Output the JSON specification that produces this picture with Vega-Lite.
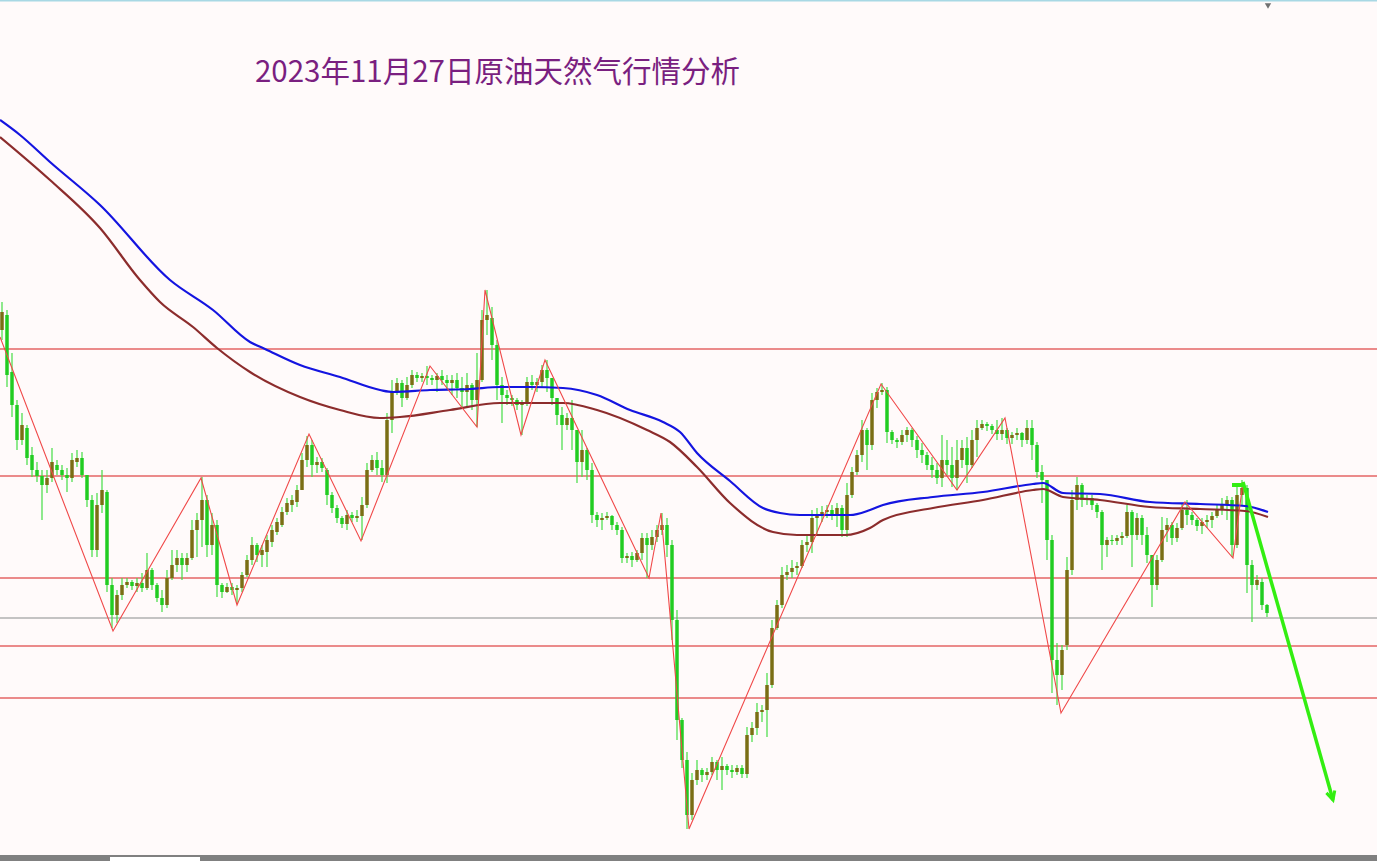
{
"$schema": "https://vega.github.io/schema/vega-lite/v6.json",
"width": 1377, "height": 861,
"autosize": "none",
"padding": 0,
"background": "#fffafa",
"config": {"view": {"stroke": null}, "axis": {"disable": true}},
"datasets": {
"one": [{}],
"candles": [
{"t":0,"o":82.7,"h":82.98,"l":82.6,"c":82.88},
{"t":1,"o":82.85,"h":82.9,"l":82.13,"c":82.25},
{"t":2,"o":82.28,"h":82.47,"l":81.83,"c":81.95},
{"t":3,"o":81.95,"h":82.0,"l":81.5,"c":81.6},
{"t":4,"o":81.6,"h":81.87,"l":81.55,"c":81.75},
{"t":5,"o":81.72,"h":81.75,"l":81.35,"c":81.42},
{"t":6,"o":81.45,"h":81.53,"l":81.23,"c":81.3},
{"t":7,"o":81.3,"h":81.38,"l":81.18,"c":81.24},
{"t":8,"o":81.24,"h":81.3,"l":80.8,"c":81.15},
{"t":9,"o":81.15,"h":81.3,"l":81.07,"c":81.22},
{"t":10,"o":81.22,"h":81.52,"l":81.18,"c":81.38},
{"t":11,"o":81.35,"h":81.4,"l":81.25,"c":81.3},
{"t":12,"o":81.3,"h":81.35,"l":81.2,"c":81.25},
{"t":13,"o":81.25,"h":81.32,"l":81.08,"c":81.22},
{"t":14,"o":81.22,"h":81.47,"l":81.18,"c":81.4},
{"t":15,"o":81.38,"h":81.5,"l":81.33,"c":81.42},
{"t":16,"o":81.42,"h":81.48,"l":81.22,"c":81.25},
{"t":17,"o":81.25,"h":81.25,"l":80.93,"c":81.0},
{"t":18,"o":81.0,"h":81.05,"l":80.43,"c":80.5},
{"t":19,"o":80.5,"h":81.07,"l":80.43,"c":80.95},
{"t":20,"o":80.95,"h":81.3,"l":80.87,"c":81.1},
{"t":21,"o":81.08,"h":81.1,"l":80.08,"c":80.15},
{"t":22,"o":80.15,"h":80.22,"l":79.72,"c":79.85},
{"t":23,"o":79.85,"h":80.1,"l":79.77,"c":80.05},
{"t":24,"o":80.05,"h":80.22,"l":80.0,"c":80.15},
{"t":25,"o":80.15,"h":80.22,"l":80.12,"c":80.18},
{"t":26,"o":80.18,"h":80.2,"l":80.1,"c":80.14},
{"t":27,"o":80.14,"h":80.22,"l":80.08,"c":80.17},
{"t":28,"o":80.17,"h":80.27,"l":80.08,"c":80.12},
{"t":29,"o":80.12,"h":80.47,"l":80.1,"c":80.3},
{"t":30,"o":80.3,"h":80.32,"l":80.1,"c":80.15},
{"t":31,"o":80.15,"h":80.17,"l":79.98,"c":80.02},
{"t":32,"o":80.02,"h":80.1,"l":79.88,"c":79.95},
{"t":33,"o":79.95,"h":80.3,"l":79.92,"c":80.22},
{"t":34,"o":80.22,"h":80.5,"l":80.2,"c":80.35},
{"t":35,"o":80.35,"h":80.5,"l":80.28,"c":80.42},
{"t":36,"o":80.42,"h":80.47,"l":80.2,"c":80.35},
{"t":37,"o":80.35,"h":80.47,"l":80.28,"c":80.42},
{"t":38,"o":80.42,"h":80.8,"l":80.4,"c":80.7},
{"t":39,"o":80.7,"h":80.87,"l":80.43,"c":80.8},
{"t":40,"o":80.8,"h":81.23,"l":80.53,"c":81.0},
{"t":41,"o":81.0,"h":81.05,"l":80.43,"c":80.55},
{"t":42,"o":80.55,"h":80.87,"l":80.45,"c":80.75},
{"t":43,"o":80.75,"h":80.8,"l":80.03,"c":80.15},
{"t":44,"o":80.15,"h":80.17,"l":80.02,"c":80.08},
{"t":45,"o":80.08,"h":80.17,"l":80.07,"c":80.13},
{"t":46,"o":80.13,"h":80.17,"l":80.05,"c":80.1},
{"t":47,"o":80.1,"h":80.15,"l":79.97,"c":80.12},
{"t":48,"o":80.12,"h":80.28,"l":80.08,"c":80.25},
{"t":49,"o":80.25,"h":80.45,"l":80.23,"c":80.4},
{"t":50,"o":80.4,"h":80.63,"l":80.35,"c":80.55},
{"t":51,"o":80.55,"h":80.57,"l":80.38,"c":80.45},
{"t":52,"o":80.45,"h":80.55,"l":80.33,"c":80.5},
{"t":53,"o":80.48,"h":80.65,"l":80.33,"c":80.6},
{"t":54,"o":80.58,"h":80.75,"l":80.53,"c":80.7},
{"t":55,"o":80.68,"h":80.82,"l":80.65,"c":80.78},
{"t":56,"o":80.75,"h":80.93,"l":80.73,"c":80.88},
{"t":57,"o":80.88,"h":81.02,"l":80.85,"c":80.97},
{"t":58,"o":80.95,"h":81.05,"l":80.88,"c":81.0},
{"t":59,"o":80.98,"h":81.15,"l":80.93,"c":81.1},
{"t":60,"o":81.1,"h":81.47,"l":81.1,"c":81.4},
{"t":61,"o":81.4,"h":81.64,"l":81.33,"c":81.55},
{"t":62,"o":81.55,"h":81.6,"l":81.23,"c":81.35},
{"t":63,"o":81.35,"h":81.43,"l":81.27,"c":81.38},
{"t":64,"o":81.38,"h":81.42,"l":81.28,"c":81.32},
{"t":65,"o":81.3,"h":81.32,"l":80.95,"c":81.05},
{"t":66,"o":81.05,"h":81.08,"l":80.87,"c":80.92},
{"t":67,"o":80.92,"h":80.95,"l":80.77,"c":80.82},
{"t":68,"o":80.82,"h":80.84,"l":80.72,"c":80.76},
{"t":69,"o":80.76,"h":80.9,"l":80.7,"c":80.85},
{"t":70,"o":80.85,"h":80.88,"l":80.78,"c":80.82},
{"t":71,"o":80.82,"h":80.9,"l":80.78,"c":80.84},
{"t":72,"o":80.84,"h":81.03,"l":80.6,"c":80.95},
{"t":73,"o":80.95,"h":81.37,"l":80.92,"c":81.3},
{"t":74,"o":81.3,"h":81.45,"l":81.28,"c":81.4},
{"t":75,"o":81.4,"h":81.48,"l":81.25,"c":81.32},
{"t":76,"o":81.32,"h":81.4,"l":81.18,"c":81.25},
{"t":77,"o":81.25,"h":81.87,"l":81.17,"c":81.8},
{"t":78,"o":81.8,"h":82.2,"l":81.67,"c":82.08},
{"t":79,"o":82.08,"h":82.22,"l":82.05,"c":82.17},
{"t":80,"o":82.17,"h":82.2,"l":81.93,"c":82.02},
{"t":81,"o":82.02,"h":82.23,"l":82.0,"c":82.15},
{"t":82,"o":82.15,"h":82.3,"l":82.12,"c":82.25},
{"t":83,"o":82.25,"h":82.28,"l":82.18,"c":82.22},
{"t":84,"o":82.22,"h":82.27,"l":82.18,"c":82.24},
{"t":85,"o":82.24,"h":82.34,"l":82.15,"c":82.22},
{"t":86,"o":82.22,"h":82.25,"l":82.15,"c":82.2},
{"t":87,"o":82.2,"h":82.27,"l":82.08,"c":82.24},
{"t":88,"o":82.24,"h":82.3,"l":82.15,"c":82.2},
{"t":89,"o":82.2,"h":82.25,"l":82.1,"c":82.17},
{"t":90,"o":82.17,"h":82.25,"l":82.05,"c":82.2},
{"t":91,"o":82.2,"h":82.27,"l":82.02,"c":82.12},
{"t":92,"o":82.12,"h":82.23,"l":81.93,"c":82.08},
{"t":93,"o":82.08,"h":82.27,"l":81.93,"c":82.15},
{"t":94,"o":82.15,"h":82.17,"l":81.9,"c":82.0},
{"t":95,"o":82.0,"h":82.47,"l":81.73,"c":82.2},
{"t":96,"o":82.2,"h":82.9,"l":82.18,"c":82.8},
{"t":97,"o":82.8,"h":83.1,"l":82.65,"c":82.85},
{"t":98,"o":82.82,"h":82.93,"l":82.4,"c":82.55},
{"t":99,"o":82.55,"h":82.6,"l":82.0,"c":82.15},
{"t":100,"o":82.15,"h":82.23,"l":81.77,"c":82.05},
{"t":101,"o":82.05,"h":82.1,"l":81.95,"c":82.02},
{"t":102,"o":82.02,"h":82.05,"l":81.94,"c":82.0},
{"t":103,"o":82.0,"h":82.02,"l":81.9,"c":81.95},
{"t":104,"o":81.95,"h":82.0,"l":81.65,"c":81.96},
{"t":105,"o":81.96,"h":82.23,"l":81.94,"c":82.18},
{"t":106,"o":82.18,"h":82.25,"l":82.1,"c":82.15},
{"t":107,"o":82.15,"h":82.22,"l":82.08,"c":82.18},
{"t":108,"o":82.18,"h":82.35,"l":82.12,"c":82.3},
{"t":109,"o":82.3,"h":82.4,"l":82.08,"c":82.22},
{"t":110,"o":82.22,"h":82.22,"l":81.95,"c":82.02},
{"t":111,"o":82.02,"h":82.02,"l":81.75,"c":81.85},
{"t":112,"o":81.85,"h":81.93,"l":81.5,"c":81.75},
{"t":113,"o":81.75,"h":81.87,"l":81.7,"c":81.82},
{"t":114,"o":81.82,"h":82.0,"l":81.5,"c":81.7},
{"t":115,"o":81.7,"h":81.7,"l":81.17,"c":81.38},
{"t":116,"o":81.38,"h":81.7,"l":81.23,"c":81.5},
{"t":117,"o":81.5,"h":81.52,"l":81.2,"c":81.3},
{"t":118,"o":81.3,"h":81.37,"l":80.77,"c":80.85},
{"t":119,"o":80.85,"h":80.88,"l":80.73,"c":80.8},
{"t":120,"o":80.8,"h":80.87,"l":80.7,"c":80.82},
{"t":121,"o":80.82,"h":80.88,"l":80.8,"c":80.84},
{"t":122,"o":80.84,"h":80.85,"l":80.7,"c":80.75},
{"t":123,"o":80.75,"h":80.78,"l":80.65,"c":80.7},
{"t":124,"o":80.7,"h":80.73,"l":80.37,"c":80.42},
{"t":125,"o":80.42,"h":80.47,"l":80.37,"c":80.44},
{"t":126,"o":80.44,"h":80.48,"l":80.33,"c":80.4},
{"t":127,"o":80.4,"h":80.5,"l":80.38,"c":80.47},
{"t":128,"o":80.47,"h":80.67,"l":80.4,"c":80.62},
{"t":129,"o":80.62,"h":80.67,"l":80.22,"c":80.55},
{"t":130,"o":80.55,"h":80.7,"l":80.5,"c":80.63},
{"t":131,"o":80.63,"h":80.75,"l":80.58,"c":80.7},
{"t":132,"o":80.7,"h":80.87,"l":80.65,"c":80.75},
{"t":133,"o":80.75,"h":80.82,"l":80.43,"c":80.55},
{"t":134,"o":80.55,"h":80.6,"l":79.6,"c":79.8},
{"t":135,"o":79.8,"h":79.9,"l":78.6,"c":78.8},
{"t":136,"o":78.8,"h":78.82,"l":78.32,"c":78.4},
{"t":137,"o":78.4,"h":78.48,"l":77.71,"c":77.85},
{"t":138,"o":77.85,"h":78.27,"l":77.8,"c":78.2},
{"t":139,"o":78.2,"h":78.4,"l":78.15,"c":78.3},
{"t":140,"o":78.3,"h":78.32,"l":78.18,"c":78.25},
{"t":141,"o":78.25,"h":78.32,"l":78.2,"c":78.28},
{"t":142,"o":78.28,"h":78.43,"l":78.25,"c":78.38},
{"t":143,"o":78.38,"h":78.4,"l":78.2,"c":78.3},
{"t":144,"o":78.3,"h":78.43,"l":78.1,"c":78.34},
{"t":145,"o":78.34,"h":78.36,"l":78.25,"c":78.3},
{"t":146,"o":78.3,"h":78.35,"l":78.22,"c":78.28},
{"t":147,"o":78.28,"h":78.35,"l":78.25,"c":78.32},
{"t":148,"o":78.32,"h":78.35,"l":78.22,"c":78.26},
{"t":149,"o":78.26,"h":78.73,"l":78.22,"c":78.65},
{"t":150,"o":78.65,"h":78.78,"l":78.58,"c":78.72},
{"t":151,"o":78.72,"h":78.97,"l":78.65,"c":78.88},
{"t":152,"o":78.88,"h":78.95,"l":78.78,"c":78.9},
{"t":153,"o":78.9,"h":79.27,"l":78.63,"c":79.15},
{"t":154,"o":79.15,"h":79.8,"l":79.12,"c":79.72},
{"t":155,"o":79.72,"h":80.0,"l":79.7,"c":79.95},
{"t":156,"o":79.95,"h":80.33,"l":79.92,"c":80.25},
{"t":157,"o":80.25,"h":80.35,"l":80.2,"c":80.28},
{"t":158,"o":80.28,"h":80.4,"l":80.22,"c":80.32},
{"t":159,"o":80.32,"h":80.38,"l":80.25,"c":80.34},
{"t":160,"o":80.34,"h":80.6,"l":80.32,"c":80.55},
{"t":161,"o":80.55,"h":80.64,"l":80.48,"c":80.58},
{"t":162,"o":80.58,"h":80.9,"l":80.47,"c":80.82},
{"t":163,"o":80.82,"h":80.92,"l":80.65,"c":80.85},
{"t":164,"o":80.85,"h":80.94,"l":80.78,"c":80.88},
{"t":165,"o":80.88,"h":80.95,"l":80.82,"c":80.9},
{"t":166,"o":80.9,"h":80.95,"l":80.8,"c":80.85},
{"t":167,"o":80.85,"h":80.97,"l":80.73,"c":80.92},
{"t":168,"o":80.92,"h":80.95,"l":80.63,"c":80.7},
{"t":169,"o":80.7,"h":81.17,"l":80.63,"c":81.05},
{"t":170,"o":81.05,"h":81.33,"l":81.02,"c":81.28},
{"t":171,"o":81.28,"h":81.5,"l":81.25,"c":81.45},
{"t":172,"o":81.45,"h":81.8,"l":81.38,"c":81.7},
{"t":173,"o":81.7,"h":81.72,"l":81.3,"c":81.55},
{"t":174,"o":81.55,"h":82.07,"l":81.5,"c":82.0},
{"t":175,"o":82.0,"h":82.12,"l":81.92,"c":82.08},
{"t":176,"o":82.08,"h":82.17,"l":82.05,"c":82.1},
{"t":177,"o":82.1,"h":82.13,"l":81.57,"c":81.68},
{"t":178,"o":81.68,"h":81.7,"l":81.56,"c":81.6},
{"t":179,"o":81.6,"h":81.62,"l":81.52,"c":81.58},
{"t":180,"o":81.58,"h":81.7,"l":81.55,"c":81.65},
{"t":181,"o":81.65,"h":81.73,"l":81.58,"c":81.7},
{"t":182,"o":81.7,"h":81.72,"l":81.53,"c":81.6},
{"t":183,"o":81.6,"h":81.64,"l":81.42,"c":81.5},
{"t":184,"o":81.5,"h":81.57,"l":81.37,"c":81.45},
{"t":185,"o":81.45,"h":81.48,"l":81.3,"c":81.35},
{"t":186,"o":81.35,"h":81.43,"l":81.22,"c":81.3},
{"t":187,"o":81.3,"h":81.37,"l":81.16,"c":81.22},
{"t":188,"o":81.22,"h":81.65,"l":81.13,"c":81.4},
{"t":189,"o":81.4,"h":81.6,"l":81.25,"c":81.35},
{"t":190,"o":81.35,"h":81.53,"l":81.13,"c":81.22},
{"t":191,"o":81.22,"h":81.6,"l":81.1,"c":81.4},
{"t":192,"o":81.4,"h":81.6,"l":81.32,"c":81.52},
{"t":193,"o":81.52,"h":81.63,"l":81.17,"c":81.35},
{"t":194,"o":81.35,"h":81.7,"l":81.32,"c":81.6},
{"t":195,"o":81.6,"h":81.8,"l":81.43,"c":81.72},
{"t":196,"o":81.72,"h":81.8,"l":81.7,"c":81.76},
{"t":197,"o":81.76,"h":81.78,"l":81.69,"c":81.74},
{"t":198,"o":81.74,"h":81.76,"l":81.66,"c":81.7},
{"t":199,"o":81.7,"h":81.8,"l":81.6,"c":81.66},
{"t":200,"o":81.66,"h":81.82,"l":81.6,"c":81.7},
{"t":201,"o":81.7,"h":81.72,"l":81.56,"c":81.62},
{"t":202,"o":81.62,"h":81.68,"l":81.56,"c":81.65},
{"t":203,"o":81.65,"h":81.72,"l":81.6,"c":81.67},
{"t":204,"o":81.67,"h":81.68,"l":81.53,"c":81.6},
{"t":205,"o":81.6,"h":81.8,"l":81.56,"c":81.72},
{"t":206,"o":81.72,"h":81.8,"l":81.4,"c":81.55},
{"t":207,"o":81.55,"h":81.58,"l":81.22,"c":81.28},
{"t":208,"o":81.28,"h":81.35,"l":80.97,"c":81.2},
{"t":209,"o":81.2,"h":81.2,"l":80.4,"c":80.6},
{"t":210,"o":80.6,"h":80.65,"l":79.07,"c":79.4},
{"t":211,"o":79.4,"h":79.57,"l":78.95,"c":79.25},
{"t":212,"o":79.25,"h":79.55,"l":79.1,"c":79.5},
{"t":213,"o":79.55,"h":80.43,"l":79.5,"c":80.3},
{"t":214,"o":80.3,"h":81.1,"l":80.25,"c":81.0},
{"t":215,"o":81.0,"h":81.23,"l":80.9,"c":81.15},
{"t":216,"o":81.15,"h":81.17,"l":80.93,"c":81.0},
{"t":217,"o":81.0,"h":81.05,"l":80.95,"c":81.02},
{"t":218,"o":81.02,"h":81.05,"l":80.9,"c":80.95},
{"t":219,"o":80.95,"h":80.97,"l":80.82,"c":80.88},
{"t":220,"o":80.88,"h":80.9,"l":80.3,"c":80.55},
{"t":221,"o":80.55,"h":80.63,"l":80.43,"c":80.6},
{"t":222,"o":80.6,"h":80.65,"l":80.55,"c":80.59},
{"t":223,"o":80.59,"h":80.65,"l":80.55,"c":80.62},
{"t":224,"o":80.62,"h":80.68,"l":80.55,"c":80.64},
{"t":225,"o":80.64,"h":80.95,"l":80.62,"c":80.88},
{"t":226,"o":80.88,"h":80.9,"l":80.33,"c":80.65},
{"t":227,"o":80.65,"h":80.87,"l":80.6,"c":80.82},
{"t":228,"o":80.82,"h":80.85,"l":80.55,"c":80.65},
{"t":229,"o":80.65,"h":80.73,"l":80.37,"c":80.45},
{"t":230,"o":80.45,"h":80.45,"l":79.93,"c":80.15},
{"t":231,"o":80.15,"h":80.45,"l":80.1,"c":80.4},
{"t":232,"o":80.4,"h":80.83,"l":80.38,"c":80.7},
{"t":233,"o":80.7,"h":80.82,"l":80.58,"c":80.75},
{"t":234,"o":80.75,"h":80.78,"l":80.55,"c":80.62},
{"t":235,"o":80.62,"h":80.77,"l":80.58,"c":80.72},
{"t":236,"o":80.72,"h":80.97,"l":80.7,"c":80.9},
{"t":237,"o":80.9,"h":81.0,"l":80.75,"c":80.85},
{"t":238,"o":80.85,"h":80.88,"l":80.75,"c":80.8},
{"t":239,"o":80.8,"h":80.82,"l":80.69,"c":80.74},
{"t":240,"o":80.74,"h":80.82,"l":80.66,"c":80.78},
{"t":241,"o":80.78,"h":80.85,"l":80.72,"c":80.8},
{"t":242,"o":80.8,"h":80.88,"l":80.72,"c":80.84},
{"t":243,"o":80.84,"h":80.95,"l":80.82,"c":80.9},
{"t":244,"o":80.9,"h":81.02,"l":80.85,"c":80.95},
{"t":245,"o":80.95,"h":81.04,"l":80.8,"c":81.0},
{"t":246,"o":81.0,"h":81.03,"l":80.43,"c":80.55},
{"t":247,"o":80.55,"h":81.17,"l":80.52,"c":81.05},
{"t":248,"o":81.05,"h":81.2,"l":80.95,"c":81.12},
{"t":249,"o":81.12,"h":81.15,"l":80.07,"c":80.35},
{"t":250,"o":80.35,"h":80.4,"l":79.78,"c":80.15},
{"t":251,"o":80.15,"h":80.25,"l":80.1,"c":80.2},
{"t":252,"o":80.18,"h":80.22,"l":79.9,"c":79.95},
{"t":253,"o":79.95,"h":79.96,"l":79.83,"c":79.87}
],
"ma": [
{"s":"fast","t":-0.4,"p":84.8},{"s":"fast","t":3.6,"p":84.65},{"s":"fast","t":9.6,"p":84.38},{"s":"fast","t":19.6,"p":83.95},{"s":"fast","t":33.6,"p":83.2},{"s":"fast","t":42.2,"p":82.9},{"s":"fast","t":49.6,"p":82.58},{"s":"fast","t":52.6,"p":82.51},{"s":"fast","t":59.6,"p":82.35},{"s":"fast","t":67.6,"p":82.23},{"s":"fast","t":75.6,"p":82.1},{"s":"fast","t":78.2,"p":82.08},{"s":"fast","t":85.6,"p":82.1},{"s":"fast","t":93.6,"p":82.11},{"s":"fast","t":99.6,"p":82.13},{"s":"fast","t":105.6,"p":82.13},{"s":"fast","t":112.2,"p":82.12},{"s":"fast","t":119,"p":82.05},{"s":"fast","t":125.6,"p":81.9},{"s":"fast","t":132.2,"p":81.78},{"s":"fast","t":135.6,"p":81.68},{"s":"fast","t":139,"p":81.47},{"s":"fast","t":145.6,"p":81.19},{"s":"fast","t":152.2,"p":80.92},{"s":"fast","t":155.6,"p":80.87},{"s":"fast","t":159.6,"p":80.85},{"s":"fast","t":169.6,"p":80.85},{"s":"fast","t":173.6,"p":80.9},{"s":"fast","t":176.2,"p":80.95},{"s":"fast","t":186.2,"p":81.03},{"s":"fast","t":196.2,"p":81.08},{"s":"fast","t":206.2,"p":81.16},{"s":"fast","t":208.2,"p":81.17},{"s":"fast","t":212.2,"p":81.07},{"s":"fast","t":219.6,"p":81.06},{"s":"fast","t":229.6,"p":80.98},{"s":"fast","t":239.6,"p":80.96},{"s":"fast","t":248.6,"p":80.94},{"s":"fast","t":253.2,"p":80.88},
{"s":"slow","t":-0.4,"p":84.63},{"s":"slow","t":9.6,"p":84.2},{"s":"slow","t":19.6,"p":83.72},{"s":"slow","t":27.6,"p":83.2},{"s":"slow","t":31.6,"p":82.98},{"s":"slow","t":38.2,"p":82.73},{"s":"slow","t":43,"p":82.52},{"s":"slow","t":49.6,"p":82.28},{"s":"slow","t":59.6,"p":82.03},{"s":"slow","t":67.6,"p":81.9},{"s":"slow","t":75.6,"p":81.82},{"s":"slow","t":79.6,"p":81.83},{"s":"slow","t":89.6,"p":81.9},{"s":"slow","t":99.6,"p":81.97},{"s":"slow","t":112.2,"p":81.97},{"s":"slow","t":119,"p":81.9},{"s":"slow","t":129,"p":81.7},{"s":"slow","t":133.6,"p":81.58},{"s":"slow","t":139,"p":81.33},{"s":"slow","t":145.6,"p":80.97},{"s":"slow","t":154.2,"p":80.68},{"s":"slow","t":159,"p":80.65},{"s":"slow","t":168.6,"p":80.65},{"s":"slow","t":173.6,"p":80.72},{"s":"slow","t":176.2,"p":80.8},{"s":"slow","t":186.2,"p":80.92},{"s":"slow","t":196.2,"p":81.0},{"s":"slow","t":206.2,"p":81.1},{"s":"slow","t":208.2,"p":81.11},{"s":"slow","t":212.2,"p":81.03},{"s":"slow","t":219.6,"p":81.0},{"s":"slow","t":229.6,"p":80.93},{"s":"slow","t":239.6,"p":80.91},{"s":"slow","t":248.6,"p":80.89},{"s":"slow","t":253.2,"p":80.83}
],
"zigzag": [
{"t":-0.4,"p":82.63},{"t":22.2,"p":79.69},{"t":39.8,"p":81.22},{"t":47,"p":79.95},{"t":61.4,"p":81.66},{"t":71.8,"p":80.59},{"t":85.6,"p":82.34},{"t":95,"p":81.73},{"t":96.6,"p":83.1},{"t":103.8,"p":81.65},{"t":108.6,"p":82.4},{"t":129.4,"p":80.22},{"t":131.8,"p":80.87},{"t":137.4,"p":77.71},{"t":175.8,"p":82.16},{"t":191,"p":81.1},{"t":200.6,"p":81.82},{"t":211.8,"p":78.87},{"t":236.6,"p":80.98},{"t":246.2,"p":80.42},{"t":248.2,"p":81.18}
],
"levels": [{"p":82.51},{"p":81.24},{"p":80.22},{"p":79.54},{"p":79.02}],
"arrow": [{"t":248.2,"p":81.18},{"t":266.2,"p":78.0}],
"arrowTail": [{"t":246.0,"p":81.15},{"t":248.6,"p":81.15}]
},
"layer": [
{"data": {"name": "one"}, "mark": {"type": "rule", "color": "#a8d8e4", "strokeWidth": 2},
 "encoding": {"y": {"datum": 85.995, "type": "quantitative", "scale": {"domain": [77.39, 86], "nice": false, "zero": false}, "axis": null}}},
{"data": {"name": "levels"}, "mark": {"type": "rule", "color": "#e46464", "strokeWidth": 1.6},
 "encoding": {"y": {"field": "p", "type": "quantitative", "scale": {"domain": [77.39, 86], "nice": false, "zero": false}, "axis": null}}},
{"data": {"name": "one"}, "mark": {"type": "rule", "color": "#b0b0b0", "strokeWidth": 1.6},
 "encoding": {"y": {"datum": 79.82, "type": "quantitative", "axis": null}}},
{"data": {"name": "candles"}, "mark": {"type": "rule", "color": "#44dd44", "strokeWidth": 1.2},
 "encoding": {
  "x": {"field": "t", "type": "quantitative", "scale": {"domain": [-0.4, 275], "nice": false, "zero": false}, "axis": null},
  "y": {"field": "l", "type": "quantitative", "axis": null},
  "y2": {"field": "h"}}},
{"data": {"name": "candles"}, "mark": {"type": "rule", "strokeWidth": 3.5},
 "encoding": {
  "x": {"field": "t", "type": "quantitative", "axis": null},
  "y": {"field": "o", "type": "quantitative", "axis": null},
  "y2": {"field": "c"},
  "color": {"condition": {"test": "datum.c > datum.o", "value": "#7a6e14"}, "value": "#22cc22"}}},
{"data": {"name": "ma"}, "mark": {"type": "line", "strokeWidth": 2.2, "interpolate": "monotone"},
 "encoding": {
  "x": {"field": "t", "type": "quantitative", "axis": null},
  "y": {"field": "p", "type": "quantitative", "axis": null},
  "color": {"field": "s", "type": "nominal", "scale": {"domain": ["fast", "slow"], "range": ["#1414e0", "#8c2c2c"]}, "legend": null}}},
{"data": {"name": "zigzag"}, "mark": {"type": "line", "color": "#f04848", "strokeWidth": 1.1},
 "encoding": {
  "x": {"field": "t", "type": "quantitative", "axis": null},
  "y": {"field": "p", "type": "quantitative", "axis": null}}},
{"data": {"name": "arrow"}, "mark": {"type": "line", "color": "#33ee11", "strokeWidth": 3.5},
 "encoding": {
  "x": {"field": "t", "type": "quantitative", "axis": null},
  "y": {"field": "p", "type": "quantitative", "axis": null}}},
{"data": {"name": "arrowTail"}, "mark": {"type": "line", "color": "#33ee11", "strokeWidth": 4},
 "encoding": {
  "x": {"field": "t", "type": "quantitative", "axis": null},
  "y": {"field": "p", "type": "quantitative", "axis": null}}},
{"data": {"name": "one"}, "mark": {"type": "point", "shape": "M-0.5,-1L0,0L0.5,-1", "filled": false, "stroke": "#33ee11", "strokeWidth": 3, "size": 300, "angle": 344, "opacity": 1},
 "encoding": {"x": {"datum": 266.2, "type": "quantitative", "axis": null}, "y": {"datum": 78.0, "type": "quantitative", "axis": null}}},
{"data": {"name": "one"}, "mark": {"type": "point", "shape": "triangle-down", "filled": true, "color": "#707070", "size": 40, "opacity": 1},
 "encoding": {"x": {"datum": 253.2, "type": "quantitative", "axis": null}, "y": {"datum": 85.94, "type": "quantitative", "axis": null}}},
{"data": {"name": "one"}, "mark": {"type": "rect", "color": "#808080"},
 "encoding": {"x": {"datum": -0.4, "type": "quantitative", "axis": null}, "x2": {"datum": 275}, "y": {"datum": 77.39, "type": "quantitative", "axis": null}, "y2": {"datum": 77.45}}},
{"data": {"name": "one"}, "mark": {"type": "rect", "color": "#ffffff"},
 "encoding": {"x": {"datum": 21.6, "type": "quantitative", "axis": null}, "x2": {"datum": 39.6}, "y": {"datum": 77.39, "type": "quantitative", "axis": null}, "y2": {"datum": 77.43}}},
{"data": {"name": "one"}, "mark": {"type": "text", "text": "2023年11月27日原油天然气行情分析", "align": "left", "baseline": "middle", "font": "Noto Sans CJK SC", "fontSize": 29.5, "color": "#7a1f80"},
 "encoding": {"x": {"datum": 50.6, "type": "quantitative", "axis": null}, "y": {"datum": 85.27, "type": "quantitative", "axis": null}}}
]
}
